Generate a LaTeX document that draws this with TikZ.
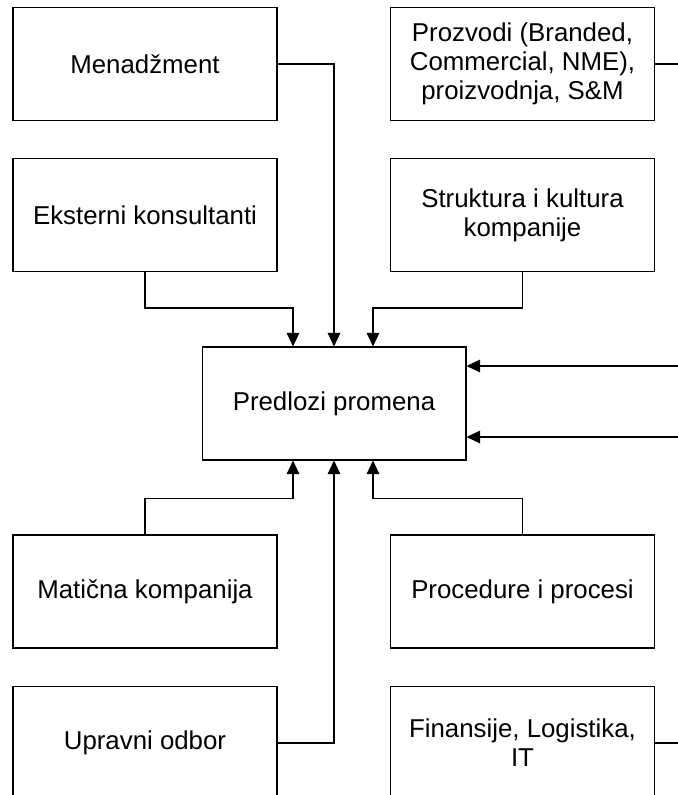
\documentclass[tikz,border=0pt]{standalone}
\usepackage{fontspec}
\setmainfont{Liberation Sans}
\usetikzlibrary{arrows.meta}

\tikzset{
	blok/.style={draw, line width=0.6pt, minimum width=5.28cm, minimum height=2.26cm,
		align=center, inner sep=0pt, font=\fontsize{14.7}{16.4}\selectfont},
	veza/.style={line width=0.6pt, -{Triangle[length=2.7mm,width=2.5mm]}},
	linija/.style={line width=0.6pt}
}

\begin{document}
\begin{tikzpicture}[x=0.02cm,y=-0.02cm]
		\useasboundingbox (0,0) rectangle (678,795);
		
		% levi i desni blokovi
		\node[blok] (men) at (145,64) {Menadžment};
		\node[blok] (prod) at (522.5,64) {Prozvodi (Branded,\\Commercial, NME),\\proizvodnja, S\&M};
		\node[blok] (ekst) at (145,215) {Eksterni konsultanti};
		\node[blok] (strukt) at (522.5,215) {Struktura i kultura\\kompanije};
		
		\node[blok] (pred) at (334,403.5) {Predlozi promena};
		
		\node[blok] (mat) at (145,591.5) {Matična kompanija};
		\node[blok] (proc) at (522.5,591.5) {Procedure i procesi};
		\node[blok] (upr) at (145,743) {Upravni odbor};
		\node[blok] (fin) at (522.5,743) {Finansije, Logistika,\\IT};
		
		% slobodni krajevi desno
		\coordinate (prodkraj) at (678,64);
		\coordinate (finkraj) at (678,743);
		\coordinate (ulaz1) at (678,366);
		\coordinate (ulaz2) at (678,437);
		
		\draw[linija] (prod.east) -- (prodkraj);
		\draw[linija] (fin.east) -- (finkraj);
		
		% ulazi odozgo
		\draw[veza] (men.east) -| (pred.north);
		\draw[veza] (ekst.south) -- ++(0,36) -| ([xshift=-0.82cm]pred.north);
		\draw[veza] (strukt.south) -- ++(0,36) -| ([xshift=0.78cm]pred.north);
		
		% ulazi sa desne strane
		\draw[veza] (ulaz1) -- (pred.east |- ulaz1);
		\draw[veza] (ulaz2) -- (pred.east |- ulaz2);
		
		% ulazi odozdo
		\draw[veza] (mat.north) -- ++(0,-36) -| ([xshift=-0.82cm]pred.south);
		\draw[veza] (proc.north) -- ++(0,-36) -| ([xshift=0.78cm]pred.south);
		\draw[veza] (upr.east) -| (pred.south);
	\end{tikzpicture}
\end{document}
